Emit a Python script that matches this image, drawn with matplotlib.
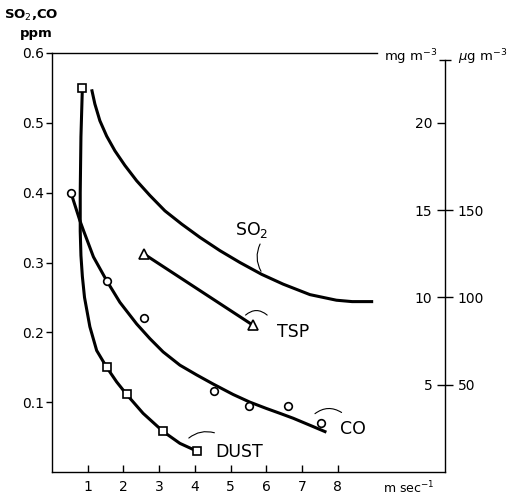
import matplotlib
matplotlib.use("Agg")
import matplotlib.pyplot as plt

# curves (wind speed m/s, concentration ppm)
so2_x = [1.11, 1.20, 1.34, 1.53, 1.76, 2.04, 2.37, 2.74, 3.16, 3.63, 4.14, 4.70,
         5.26, 5.87, 6.47, 7.22, 7.96, 8.40, 8.99]
so2_y = [0.548, 0.527, 0.503, 0.481, 0.460, 0.439, 0.417, 0.396, 0.374, 0.355, 0.336, 0.317,
         0.300, 0.283, 0.269, 0.254, 0.246, 0.244, 0.244]

co_pts_x = [0.53, 1.53, 2.57, 4.53, 5.51, 6.61, 7.54]
co_pts_y = [0.400, 0.274, 0.221, 0.116, 0.094, 0.094, 0.070]
co_x = [0.53, 0.78, 0.88, 1.16, 1.53, 1.90, 2.37, 2.74, 3.11, 3.58, 4.05, 4.51,
        5.07, 5.54, 6.00, 6.38, 6.75, 7.31, 7.68]
co_y = [0.400, 0.360, 0.346, 0.308, 0.274, 0.243, 0.212, 0.191, 0.172, 0.153, 0.139, 0.126,
        0.111, 0.100, 0.091, 0.084, 0.077, 0.065, 0.057]

dust_pts_x = [0.85, 1.53, 2.09, 3.11, 4.05]
dust_pts_y = [0.550, 0.150, 0.111, 0.058, 0.030]
dust_x = [0.85, 0.81, 0.79, 0.79, 0.81, 0.85, 0.91, 1.06, 1.25, 1.53, 1.81, 2.09,
          2.55, 3.11, 3.58, 4.05]
dust_y = [0.550, 0.480, 0.400, 0.345, 0.310, 0.280, 0.250, 0.208, 0.174, 0.150, 0.129, 0.111,
          0.084, 0.058, 0.041, 0.030]

tsp_x = [2.58, 5.63]
tsp_y = [0.312, 0.210]

x_ticks = [1, 2, 3, 4, 5, 6, 7, 8]
ppm_ticks = [0.1, 0.2, 0.3, 0.4, 0.5, 0.6]
mg_ticks = [5, 10, 15, 20]
ug_ticks = [50, 100, 150]

fig = plt.figure(figsize=(5.09, 4.99), dpi=100)
ax = fig.add_axes([52 / 509, 1 - 472 / 499, 393 / 509, 419 / 499])
ax.set_xlim(0, 11)
ax.set_ylim(0, 0.6)

lw = 2.2
for xs, ys in [(so2_x, so2_y), (co_x, co_y), (dust_x, dust_y), (tsp_x, tsp_y)]:
    ax.plot(xs, ys, color="black", lw=lw, solid_capstyle="butt", solid_joinstyle="round")

ax.plot(co_pts_x, co_pts_y, "o", ms=5.5, mfc="white", mec="black", mew=1.2)
ax.plot(dust_pts_x, dust_pts_y, "s", ms=6, mfc="white", mec="black", mew=1.2)
ax.plot(tsp_x, tsp_y, "^", ms=6.5, mfc="white", mec="black", mew=1.2)

# labels with little leader strokes
ax.text(5.59, 0.347, r"SO$_2$", fontsize=12.5, ha="center", va="center")
ax.text(6.76, 0.200, "TSP", fontsize=12.5, ha="center", va="center")
ax.text(8.41, 0.061, "CO", fontsize=12.5, ha="center", va="center")
ax.text(5.23, 0.029, "DUST", fontsize=12.5, ha="center", va="center")

leader = dict(arrowstyle="-", lw=0.8, color="black")
ax.annotate("", xy=(5.89, 0.284), xytext=(5.86, 0.330),
            arrowprops=dict(leader, connectionstyle="arc3,rad=0.3"))
ax.annotate("", xy=(6.08, 0.222), xytext=(5.36, 0.222),
            arrowprops=dict(leader, connectionstyle="arc3,rad=-0.5"))
ax.annotate("", xy=(8.17, 0.083), xytext=(7.30, 0.081),
            arrowprops=dict(leader, connectionstyle="arc3,rad=-0.4"))
ax.annotate("", xy=(4.62, 0.055), xytext=(3.77, 0.046),
            arrowprops=dict(leader, connectionstyle="arc3,rad=-0.3"))

# left / bottom axes
for s in ["left", "bottom", "top"]:
    ax.spines[s].set_linewidth(1.0)
ax.spines["right"].set_visible(False)
ax.spines["top"].set_bounds(0, 9.1)
ax.set_xticks(x_ticks)
ax.set_xticklabels([str(v) for v in x_ticks], fontsize=10)
ax.set_yticks(ppm_ticks)
ax.set_yticklabels([f"{v:.1f}" for v in ppm_ticks], fontsize=10)
ax.tick_params(axis="x", direction="in", length=5, width=1, pad=6)
ax.tick_params(axis="y", direction="out", length=4, width=1, pad=2)

# right axis: mg m-3 inside, ug m-3 outside
ax2 = ax.twinx()
ax2.set_ylim(0, 24)
for s in ["left", "bottom", "top"]:
    ax2.spines[s].set_visible(False)
ax2.spines["right"].set_linewidth(1.0)
ax2.spines["right"].set_bounds(0, 23.6)
ax2.set_yticks(mg_ticks)
ax2.set_yticklabels([str(v) for v in mg_ticks], fontsize=10)
ax2.set_yticks([23.6], minor=True)
ax2.tick_params(axis="y", which="major", direction="in", length=6, width=1, pad=-9)
ax2.tick_params(axis="y", which="minor", direction="in", length=4, width=1)
for lab in ax2.get_yticklabels():
    lab.set_ha("right")

ax3 = ax.twinx()
ax3.set_ylim(0, 240)
for s in ax3.spines.values():
    s.set_visible(False)
ax3.set_yticks(ug_ticks)
ax3.set_yticklabels([str(v) for v in ug_ticks], fontsize=10)
ax3.set_yticks([236], minor=True)
ax3.tick_params(axis="y", which="major", direction="out", length=6, width=1, pad=3)
ax3.tick_params(axis="y", which="minor", direction="out", length=4, width=1)

# axis titles
fig.text(31 / 509, 1 - 15 / 499, r"SO$_2$,CO", fontsize=9.5, fontweight="bold",
         ha="center", va="center")
fig.text(36 / 509, 1 - 33 / 499, "ppm", fontsize=9.5, fontweight="bold",
         ha="center", va="center")
fig.text(437 / 509, 1 - 57 / 499, r"mg m$^{-3}$", fontsize=9.5, ha="right", va="center")
fig.text(458 / 509, 1 - 57 / 499, r"$\mu$g m$^{-3}$", fontsize=9.5, ha="left", va="center")
fig.text(409 / 509, 1 - 488 / 499, r"m sec$^{-1}$", fontsize=9, ha="center", va="center")

fig.savefig("out.png", dpi=100)
